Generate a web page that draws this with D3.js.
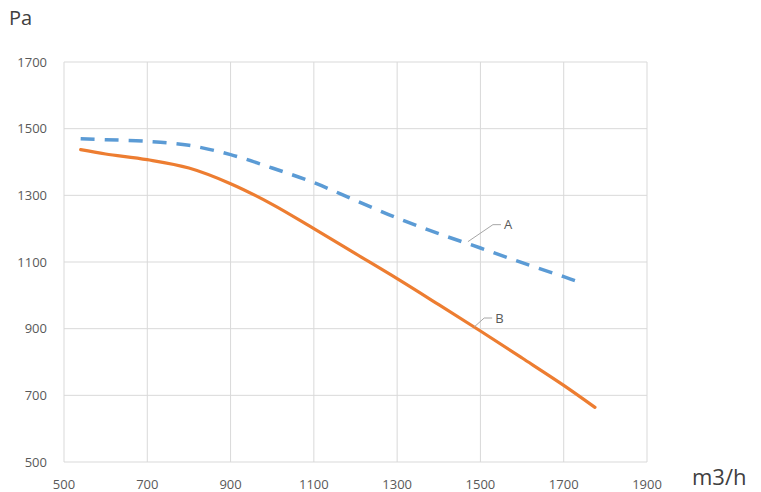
<!DOCTYPE html>
<html><head><meta charset="utf-8">
<script src="https://cdn.jsdelivr.net/npm/d3@7"></script>
<style>body{margin:0;background:#fff;} svg{display:block;font-family:"Open Sans",sans-serif;}</style>
</head><body><svg id="c" width="761" height="492"></svg>
<script>
const xTicks = [500,700,900,1100,1300,1500,1700,1900];
const yTicks = [500,700,900,1100,1300,1500,1700];
const seriesA_x = [540,600,700,800,900,1000,1100,1200,1300,1400,1500,1600,1700,1745];
const seriesA_y = [1470,1467,1462,1450,1422,1382,1338,1285,1232,1185,1142,1098,1056,1036];
const seriesB_x = [540,600,700,800,900,1000,1100,1200,1300,1400,1500,1600,1700,1775];
const seriesB_y = [1437,1424,1407,1382,1335,1273,1200,1125,1050,972,893,812,730,664];
const labels = ["A","B"];
const labelAt = [[1470,1161],[1485,905]];

const svg = d3.select("#c");
const x = d3.scaleLinear().domain([500,1900]).range([64,647]);
const y = d3.scaleLinear().domain([500,1700]).range([462,62]);

const g = svg.append("g");
g.selectAll(".gx").data(xTicks).join("line")
  .attr("x1",d=>x(d)).attr("x2",d=>x(d)).attr("y1",y(500)).attr("y2",y(1700))
  .attr("stroke","#d9d9d9").attr("stroke-width",1);
g.selectAll(".gy").data(yTicks).join("line")
  .attr("y1",d=>y(d)).attr("y2",d=>y(d)).attr("x1",x(500)).attr("x2",x(1900))
  .attr("stroke","#d9d9d9").attr("stroke-width",1);

g.selectAll(".tx").data(xTicks).join("text")
  .attr("x",d=>x(d)).attr("y",489).attr("text-anchor","middle")
  .attr("font-size",13).attr("fill","#595959").text(d=>d);
g.selectAll(".ty").data(yTicks).join("text")
  .attr("x",47).attr("y",d=>y(d)).attr("dy","0.35em").attr("text-anchor","end")
  .attr("font-size",13).attr("fill","#595959").text(d=>d);

svg.append("text").attr("x",9).attr("y",25).attr("font-size",20).attr("fill","#404040").text("Pa");
svg.append("text").attr("x",692).attr("y",485).attr("font-size",22).attr("fill","#404040").text("m3/h");

const line = d3.line().x(d=>x(d[0])).y(d=>y(d[1])).curve(d3.curveCatmullRom.alpha(0.5));
const dA = seriesA_x.map((v,i)=>[v,seriesA_y[i]]);
const dB = seriesB_x.map((v,i)=>[v,seriesB_y[i]]);
svg.append("path").attr("d",line(dB)).attr("fill","none").attr("stroke","#ed7d31")
  .attr("stroke-width",3.2).attr("stroke-linecap","round");
svg.append("path").attr("d",line(dA)).attr("fill","none").attr("stroke","#5b9bd5")
  .attr("stroke-width",3.5).attr("stroke-dasharray","14,10");

// leader labels
const offs = [[25,-17],[10,-9]];
labels.forEach((t,i)=>{
  const px = x(labelAt[i][0]), py = y(labelAt[i][1]);
  const ex = px+offs[i][0], ey = py+offs[i][1];
  svg.append("path").attr("d",`M${px},${py}L${ex},${ey}L${ex+8},${ey}`)
    .attr("fill","none").attr("stroke","#a6a6a6").attr("stroke-width",1);
  svg.append("text").attr("x",ex+11).attr("y",ey).attr("dy","0.35em")
    .attr("font-size",13).attr("fill","#595959").text(t);
});
</script></body></html>
